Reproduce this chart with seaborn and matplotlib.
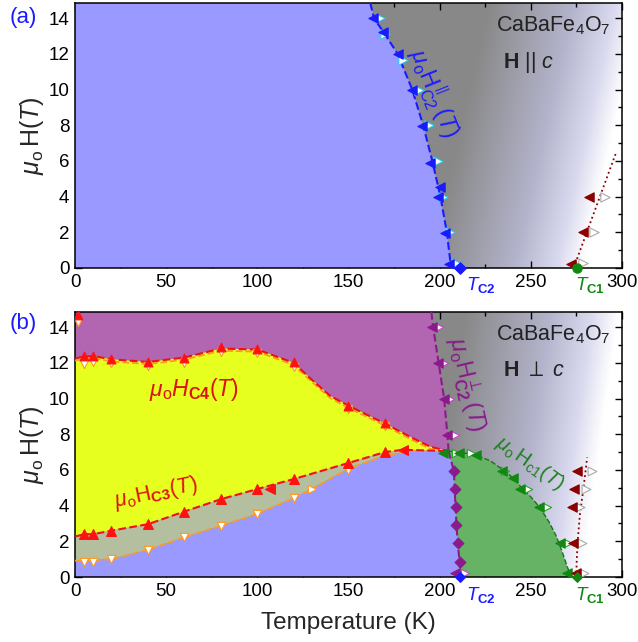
import numpy as np
import matplotlib
matplotlib.use("Agg")
import matplotlib.pyplot as plt
import seaborn as sns
from matplotlib.colors import LinearSegmentedColormap

# ---------------- painel (a): H || c ----------------
a_hc2_T = [162, 164, 170, 177, 185, 191, 196, 200.5, 204, 206, 206.5]
a_hc2_H = [14.85, 14.0, 13.1, 12.0, 10.0, 8.0, 6.0, 4.0, 2.0, 0.3, 0.0]
a_sobe_T = [163.7, 169, 177, 185, 190.6, 195, 200, 199, 203, 205]
a_sobe_H = [14.0, 13.2, 12.0, 10.0, 7.95, 5.9, 4.55, 4.0, 1.95, 0.25]
a_desce_T = [167.6, 170, 180, 188.5, 194, 199, 202, 206, 209]
a_desce_H = [14.0, 13.1, 11.65, 10.0, 8.0, 6.0, 4.0, 2.0, 0.3]
a_tc1_T = [273.6, 297]
a_tc1_H = [0.0, 6.5]
a_v1_T = [272, 278.6, 282]
a_v1_H = [0.25, 2.0, 4.0]
a_v2_T = [278.5, 285, 291]
a_v2_H = [0.3, 2.0, 4.0]

# ---------------- painel (b): H perp c ----------------
b_hc4_T = [0, 5, 10, 20, 40, 60, 80, 100, 120, 130, 140, 150, 170, 185, 195, 205]
b_hc4_H = [12.25, 12.35, 12.38, 12.2, 12.05, 12.3, 12.8, 12.75, 12.0, 11.05, 10.15, 9.6, 8.6, 7.8, 7.3, 7.05]
b_hc3_T = [0, 5, 10, 20, 40, 60, 80, 100, 120, 150, 170, 180, 200, 205]
b_hc3_H = [2.27, 2.4, 2.4, 2.6, 2.96, 3.67, 4.36, 4.93, 5.49, 6.39, 7.0, 7.13, 7.07, 7.05]
b_baixo_T = [0, 5, 10, 20, 40, 60, 80, 100, 120, 130, 150, 170, 185, 205]
b_baixo_H = [0.92, 0.9, 0.95, 1.0, 1.52, 2.23, 2.87, 3.54, 4.42, 4.94, 6.07, 6.8, 7.08, 7.05]
b_hc2_T = [195.5, 196.5, 199.5, 202.5, 204.3, 205]
b_hc2_H = [14.85, 14.0, 12.0, 10.0, 8.0, 7.05]
b_vert_T = [205, 207.9, 208.3, 208.8, 209.3, 210, 211, 211.5]
b_vert_H = [7.05, 5.92, 4.93, 3.91, 2.92, 1.89, 0.86, 0.0]
b_hc1_T = [205, 210, 220, 228, 235, 241, 245, 250, 255, 260, 264, 267, 270, 271.5, 272]
b_hc1_H = [7.05, 7.0, 6.85, 6.5, 6.0, 5.5, 5.0, 4.5, 3.9, 3.1, 2.3, 1.5, 0.6, 0.2, 0.0]
b_tc1_T = [275, 275.3, 275.8, 277, 279, 281]
b_tc1_H = [0.0, 1.0, 2.0, 3.5, 5.0, 6.7]

# marcadores (b)
b_c4_sobe_T = [1.6, 5, 10, 20, 40, 60, 80, 100, 120, 150, 170]
b_c4_sobe_H = [14.7, 12.38, 12.4, 12.2, 12.05, 12.3, 12.9, 12.8, 12.05, 9.57, 8.63]
b_c4_desce_T = [1.6, 5, 10, 20, 40, 60, 80, 100, 120, 150, 170]
b_c4_desce_H = [14.3, 11.95, 12.05, 12.0, 11.8, 12.0, 12.6, 12.55, 11.75, 9.4, 8.45]
b_c3_sobe_T = [5, 10, 20, 40, 60, 80, 100, 120, 150, 170]
b_c3_sobe_H = [2.4, 2.4, 2.6, 2.96, 3.67, 4.36, 4.93, 5.49, 6.39, 7.0]
b_c3_esq_T = [107, 180]
b_c3_esq_H = [4.93, 7.13]
b_bx_desce_T = [5, 10, 20, 40, 60, 80, 100, 120, 150]
b_bx_desce_H = [0.86, 0.86, 1.0, 1.52, 2.23, 2.87, 3.54, 4.42, 6.0]
b_bx_dir_T = [130]
b_bx_dir_H = [4.94]
b_c2_esq_T = [196, 199, 202.7, 204.2, 208.3]
b_c2_esq_H = [14.03, 11.97, 9.98, 7.94, 0.2]
b_c2_dir_T = [199.6, 202.6, 206, 208.3, 213.7]
b_c2_dir_H = [14.03, 11.97, 9.98, 7.94, 0.2]
b_diam_T = [207.9, 208.3, 208.8, 209.3, 210, 211]
b_diam_H = [5.92, 4.93, 3.91, 2.92, 1.89, 0.86]
b_c1_esq_T = [202, 210.6, 219.8, 234.4, 240.5, 244, 254.6, 266, 270]
b_c1_esq_H = [6.95, 6.95, 6.85, 5.96, 5.54, 4.93, 3.92, 1.93, 0.2]
b_c1_dir_T = [208.8, 217, 236, 248.5, 258.8, 270.5]
b_c1_dir_H = [6.95, 6.95, 5.96, 4.93, 3.92, 1.93]
b_v1_T = [274.7, 273, 272.9, 273.8, 275.5]
b_v1_H = [0.2, 1.93, 3.92, 4.93, 5.92]
b_v2_T = [279.3, 278, 277, 280.2, 283.8]
b_v2_H = [0.2, 1.93, 3.92, 4.93, 5.92]

TC2 = 211.5
TC1 = 275.3
HMAX = 14.85

AZUL = "#9999ff"
ROXO = "#b266b2"
AMARELO = "#e6ff1f"
OLIVA = "#b4bf9f"
VERDE = "#66b366"

sns.set_theme(style="ticks")
plt.rcParams["font.family"] = ["Liberation Sans", "DejaVu Sans"]
plt.rcParams["mathtext.fontset"] = "custom"
plt.rcParams["mathtext.rm"] = "Liberation Sans"
plt.rcParams["mathtext.it"] = "Liberation Sans:italic"
plt.rcParams["mathtext.bf"] = "Liberation Sans:bold"

cmap_fundo = LinearSegmentedColormap.from_list(
    "fundo", [(0, "#888888"), (0.55, "#b3b3cb"), (0.82, "#d8d8ee"), (1, "#ffffff")])


def fundo(ax, w0, w1):
    # degradê cinza -> lavanda -> branco
    T = np.linspace(0, 300, 600)
    H = np.linspace(0, 15, 300)
    TT, HH = np.meshgrid(T, H)
    w = w0 + w1 * HH
    s = np.clip((TT - (w - 85)) / 85, 0, 1)
    ax.imshow(s, extent=(0, 300, 0, 15), origin="lower", cmap=cmap_fundo,
              aspect="auto", vmin=0, vmax=1, zorder=0, interpolation="bilinear")


def linha(ax, x, y, cor, estilo="--", lw=1.5, z=3):
    sns.lineplot(x=x, y=y, sort=False, estimator=None, color=cor,
                 linestyle=estilo, lw=lw, ax=ax, zorder=z)


def pontos(ax, x, y, marker, cor, borda, s=45, z=4, clip=True):
    sns.scatterplot(x=x, y=y, marker=marker, s=s, color=cor, edgecolor=borda,
                    linewidth=0.8, ax=ax, zorder=z, legend=False)
    ax.collections[-1].set_clip_on(clip)


def eixos(ax):
    ax.set_xlim(0, 300)
    ax.set_ylim(0, HMAX)
    ax.set_xticks(range(0, 301, 50))
    ax.set_yticks(range(0, 15, 2))
    ax.set_xticks(range(0, 301, 25), minor=True)
    ax.set_yticks(range(0, 15, 1), minor=True)
    ax.tick_params(which="both", direction="in", top=True, right=True,
                   labelsize=13.5, width=1.0, colors="black", pad=4)
    ax.tick_params(which="major", length=5)
    ax.tick_params(which="minor", length=2.8)
    for sp in ax.spines.values():
        sp.set_linewidth(1.1)
        sp.set_color("black")
    ax.set_ylabel(r"$\mu_{\mathrm{o}}\,\mathrm{H}(T)$", fontsize=18, labelpad=2)
    ax.text(214.3, -0.42, r"$T_{\mathbf{C2}}$", color="#1a1aff", ha="left",
            va="top", fontsize=13.5)
    ax.text(274.5, -0.42, r"$T_{\mathbf{C1}}$", color="#118811", ha="left",
            va="top", fontsize=13.5)


fig = plt.figure(figsize=(6.38, 6.42), dpi=100)
ax1 = fig.add_axes([0.1176, 0.5826, 0.857, 0.4128])
ax2 = fig.add_axes([0.1176, 0.1012, 0.857, 0.4128])

# ---------- (a) ----------
fundo(ax1, 279, 2.2)
ax1.fill([0] + a_hc2_T + [0], [HMAX] + a_hc2_H + [0], color=AZUL, lw=0, zorder=1)
linha(ax1, a_hc2_T, a_hc2_H, "#1a1aff")
linha(ax1, a_tc1_T, a_tc1_H, "#8b0000", estilo=":", lw=1.3)
pontos(ax1, a_desce_T, a_desce_H, ">", "white", "#22ccee")
pontos(ax1, a_sobe_T, a_sobe_H, "<", "#1a1aff", "#1a1aff")
pontos(ax1, a_v2_T, a_v2_H, ">", "white", "#aaaaaa")
pontos(ax1, a_v1_T, a_v1_H, "<", "#8b0000", "#8b0000")
pontos(ax1, [TC2], [0], "D", "#1a1aff", "#1a1aff", s=35, z=6, clip=False)
pontos(ax1, [TC1], [0], "o", "#118811", "#118811", s=45, z=6, clip=False)
eixos(ax1)
ax1.text(294, 13.6, r"CaBaFe$_4$O$_7$", ha="right", va="center", fontsize=15.5, color="#222222")
ax1.text(235, 11.5, r"$\mathbf{H}$ || $c$", ha="left", va="center", fontsize=15.5, color="#222222")
ax1.text(197, 9.8, r"$\mu_{\mathrm{o}}\mathrm{H}^{\parallel}_{\mathrm{C2}}\,(T)$", color="#1a1aff",
         rotation=-68, ha="center", va="center", fontsize=16.5)
fig.text(10 / 638, 1 - 17 / 642, "(a)", color="#1a1aff", fontsize=16, ha="left", va="center")

# ---------- (b) ----------
fundo(ax2, 278, 1.4)
ax2.fill([0] + b_hc4_T + b_hc2_T[::-1] + [0],
         [b_hc4_H[0]] + b_hc4_H + b_hc2_H[::-1] + [HMAX], color=ROXO, lw=0, zorder=1)
ax2.fill(b_hc4_T + b_hc3_T[::-1], b_hc4_H + b_hc3_H[::-1], color=AMARELO, lw=0, zorder=1)
ax2.fill(b_baixo_T + b_hc3_T[::-1], b_baixo_H + b_hc3_H[::-1], color=OLIVA, lw=0, zorder=1)
ax2.fill([0] + b_baixo_T + b_vert_T[1:], [0] + b_baixo_H + b_vert_H[1:], color=AZUL, lw=0, zorder=1)
ax2.fill(b_vert_T + b_hc1_T[::-1], b_vert_H + b_hc1_H[::-1], color=VERDE, lw=0, zorder=1)

linha(ax2, b_hc4_T, [h - 0.12 for h in b_hc4_H], "#ff9922", lw=1.3)
linha(ax2, b_hc4_T, b_hc4_H, "#ee1111")
linha(ax2, b_baixo_T, b_baixo_H, "#ff9922", lw=1.3)
linha(ax2, b_hc3_T, b_hc3_H, "#ee1111")
linha(ax2, b_hc2_T, b_hc2_H, "#8b1a8b")
linha(ax2, b_vert_T, b_vert_H, "#8b1a8b")
linha(ax2, b_hc1_T, b_hc1_H, "#1f6f1f", lw=1.0)
linha(ax2, b_tc1_T, b_tc1_H, "#8b0000", estilo=":", lw=1.3)

pontos(ax2, b_c4_desce_T, b_c4_desce_H, "v", "white", "#ff9922", s=35)
pontos(ax2, b_c4_sobe_T, b_c4_sobe_H, "^", "#ff1111", "#ff1111", s=40)
pontos(ax2, b_bx_desce_T, b_bx_desce_H, "v", "white", "#ff9922", s=35)
pontos(ax2, b_bx_dir_T, b_bx_dir_H, ">", "white", "#ff9922", s=35)
pontos(ax2, b_c3_sobe_T, b_c3_sobe_H, "^", "#ff1111", "#ff1111", s=50)
pontos(ax2, b_c3_esq_T, b_c3_esq_H, "<", "#ff1111", "#ff1111", s=50)
pontos(ax2, b_c2_dir_T, b_c2_dir_H, ">", "white", "#cc44cc", s=35)
pontos(ax2, b_c2_esq_T, b_c2_esq_H, "<", "#8b1a8b", "#8b1a8b", s=45)
pontos(ax2, b_diam_T, b_diam_H, "D", "#8b1a8b", "#8b1a8b", s=30)
pontos(ax2, b_c1_dir_T, b_c1_dir_H, ">", "white", "#22aa22", s=35)
pontos(ax2, b_c1_esq_T, b_c1_esq_H, "<", "#118811", "#118811", s=45)
pontos(ax2, b_v2_T, b_v2_H, ">", "white", "#aaaaaa", s=40)
pontos(ax2, b_v1_T, b_v1_H, "<", "#8b0000", "#8b0000", s=45)
pontos(ax2, [TC2], [0], "D", "#1a1aff", "#1a1aff", s=25, z=6, clip=False)
pontos(ax2, [TC1], [0], "D", "#118811", "#118811", s=25, z=6, clip=False)
eixos(ax2)
ax2.set_xlabel("Temperature (K)", fontsize=17.5, labelpad=9)
ax2.text(294, 13.6, r"CaBaFe$_4$O$_7$", ha="right", va="center", fontsize=15.5, color="#222222")
ax2.text(235, 11.6, r"$\mathbf{H}$ $\perp$ $c$", ha="left", va="center", fontsize=15.5, color="#222222")
ax2.text(65.4, 10.5, r"$\mu_{\mathrm{o}} H_{\mathbf{C4}}(T)$", color="#dd1111", ha="center",
         va="center", fontsize=16.5)
ax2.text(44.5, 4.7, r"$\mu_{\mathrm{o}} \mathrm{H}_{\mathbf{C3}}(T)$", color="#dd1111", ha="center",
         va="center", fontsize=15.5, rotation=12)
ax2.text(215, 10.8, r"$\mu_{\mathrm{o}}\mathrm{H}^{\perp}_{\mathbf{C2}}\,(T)$", color="#8b1a8b",
         rotation=-77, ha="center", va="center", fontsize=17)
ax2.text(249.5, 6.4, r"$\mu_{\mathrm{o}}\,\mathrm{H}_{\mathrm{c1}}(T)$", color="#1f7f1f",
         rotation=-35, ha="center", va="center", fontsize=14.5)
fig.text(10 / 638, 1 - 323 / 642, "(b)", color="#1a1aff", fontsize=16, ha="left", va="center")

fig.savefig("out.png", dpi=100)
plt.close(fig)
